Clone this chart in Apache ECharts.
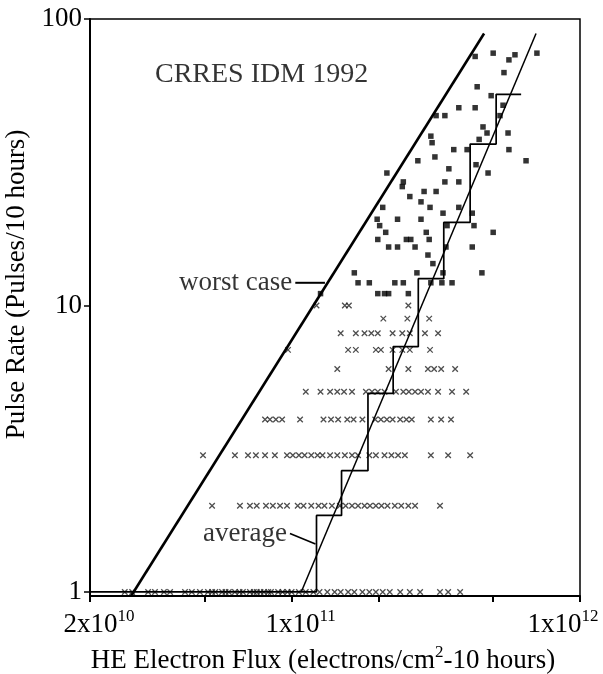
<!DOCTYPE html>
<html>
<head>
<meta charset="utf-8">
<script src="https://cdn.jsdelivr.net/npm/echarts@6/dist/echarts.min.js"></script>
<style>
  html, body { margin: 0; padding: 0; background: #fff; }
  #chart { width: 603px; height: 674px; }
</style>
</head>
<body>
<div id="chart"></div>
<script>
// flux values are in units of 1e10 electrons/cm2
const xTickValues = [2, 10, 100]
const xTickLabels = ['{b|2x10}{s|10}', '{b|1x10}{s|11}', '{b|1x10}{s|12}{pad|}']
const xMinorTicks = [2, 5, 10, 20, 50, 100]
const yTickValues = [1, 10, 100]

const worstX = [2.78, 46.5]
const worstY = [0.97, 89]
const averageX = [10.8, 70.4]
const averageY = [1, 89]

// histogram-like staircase of the average
const stepX = [2, 12.2, 14.9, 18.4, 22.5, 27.5, 33.7, 41.6, 51.2, 62.5]
const stepY = [1, 1.85, 2.65, 4.93, 7.18, 12.4, 19.5, 36.6, 54.6, 54.6]

// crosses: one row per pulse count 1..10
const cross1 = [2.64, 2.80, 3.18, 3.36, 3.61, 3.79, 4.27, 4.51, 4.81, 5.13, 5.3, 5.44, 5.74, 5.9, 6.06, 6.36, 6.6, 6.78, 7.17, 7.4, 7.57, 7.8, 8.02, 8.3, 8.48, 8.98, 9.3, 9.68, 10.0, 10.6, 11.2, 11.9, 12.5, 13.3, 14.1, 14.8, 15.7, 16.5, 17.6, 18.6, 19.6, 20.7, 21.9, 23.8, 25.7, 27.9, 32.7, 34.9, 38.4]
const cross2 = [5.30, 6.62, 7.17, 7.57, 8.15, 8.61, 9.12, 9.64, 10.5, 11.0, 11.7, 12.4, 13.0, 13.8, 14.7, 15.4, 16.2, 17.0, 17.9, 18.7, 19.6, 20.5, 21.5, 22.8, 24.0, 25.4, 26.8, 32.7]
const cross3 = [4.93, 6.36, 7.06, 7.52, 8.09, 8.75, 9.64, 10.1, 10.6, 11.1, 11.7, 12.3, 12.8, 13.6, 14.4, 15.3, 16.2, 17.0, 18.6, 19.6, 21.0, 22.2, 23.4, 24.7, 30.4, 34.9, 41.6]
const cross4 = [8.09, 8.41, 8.82, 9.27, 10.7, 12.9, 13.7, 14.5, 15.6, 16.4, 17.6, 19.5, 20.4, 21.4, 22.4, 23.8, 25.0, 26.1, 30.4, 33.0, 35.7]
const cross5 = [11.2, 12.6, 13.6, 14.4, 15.2, 16.2, 18.1, 19.0, 19.9, 21.0, 23.0, 24.4, 25.5, 26.8, 28.1, 29.7, 32.2, 36.0, 40.3]
const cross6 = [14.4, 21.7, 25.4, 29.7, 31.2, 33.0, 36.9]
const cross7 = [9.72, 15.7, 16.7, 19.6, 20.4, 22.4, 24.2, 25.7, 30.2]
const cross8 = [14.8, 16.7, 17.9, 18.9, 19.9, 22.4, 24.2, 25.7, 29.0, 32.2]
const cross9 = [20.8, 25.2, 30.0]
const cross10 = [12.2, 15.3, 15.8, 25.4]
const crossRows = [cross1, cross2, cross3, cross4, cross5, cross6, cross7, cross8, cross9, cross10]
const crossLevels = [1, 2, 3, 4, 5, 6, 7, 8, 9, 10]

// squares: higher pulse counts
const squareX = [43.3, 50.0, 56.7, 59.5, 70.9, 54.5, 44.0, 49.2, 54.1, 52.8, 43.3, 38.0, 31.7, 34.0, 46.1, 47.6, 56.3, 30.4, 30.7, 44.7, 56.7, 65.0, 36.5, 40.6, 31.4, 27.4, 35.1, 43.6, 48.0, 21.4, 24.4, 24.2, 34.0, 38.0, 25.7, 28.8, 31.7, 28.1, 30.2, 33.5, 38.0, 42.3, 20.7, 19.8, 23.3, 28.1, 20.2, 21.2, 29.3, 34.6, 42.9, 50.0, 19.9, 25.0, 25.9, 30.0, 21.7, 23.3, 26.8, 34.3, 42.3, 29.7, 30.9, 16.5, 27.2, 33.5, 45.7, 17.0, 18.6, 22.8, 24.4, 30.4, 33.2, 36.0, 19.9, 21.0, 21.7, 25.4, 12.6]
const squareY = [74, 76, 72, 75, 76, 65, 58, 54, 50, 46, 49, 49, 46, 46, 42, 40, 40, 39, 37, 38, 35, 32, 35, 35, 33, 32, 30, 31, 29, 29, 27, 26, 27, 27, 24, 25, 25, 23, 22, 21, 22, 21, 22, 20, 20, 20, 19, 18, 18, 19, 19, 18, 17, 17, 17, 17, 16, 16, 16, 16, 16, 15, 14, 13, 13, 13, 13, 12, 12, 12, 12, 12, 12, 12, 11, 11, 11, 11, 11]

// annotations
const noteText = ['CRRES IDM 1992', 'worst case', 'average']
const noteX = [3.36, 10.3, 9.87]
const noteY = [64, 12, 1.6]
const worstLeaderX = [10.3, 13.05]
const worstLeaderY = [12, 12]
const averageLeaderX = [9.87, 12.1]
const averageLeaderY = [1.6, 1.47]

const FONT = '"Liberation Serif", "DejaVu Serif", serif'
const INK = '#000'

const zip = (xs, ys) => xs.map((x, i) => [x, ys[i]])

const crossData = []
crossRows.forEach((row, i) => {
  row.forEach(x => crossData.push([x, crossLevels[i]]))
})

const chart = echarts.init(document.getElementById('chart'))

const richText = {
  b: { fontFamily: FONT, fontSize: 27, color: INK, lineHeight: 30, verticalAlign: 'bottom' },
  s: { fontFamily: FONT, fontSize: 17, color: INK, lineHeight: 30, verticalAlign: 'top' },
  pad: { width: 52 }
}

const option = {
  backgroundColor: '#fff',
  animation: false,
  grid: {
    left: 90,
    right: 23,
    top: 19,
    bottom: 78,
    outerBoundsMode: 'none',
    containLabel: false,
    show: true,
    borderColor: INK,
    borderWidth: 1.5
  },
  xAxis: {
    type: 'log',
    logBase: 10,
    min: 2,
    max: 100,
    splitLine: { show: false },
    axisLine: { lineStyle: { color: INK, width: 2 } },
    axisTick: {
      customValues: xMinorTicks,
      length: 6,
      lineStyle: { color: INK, width: 2 }
    },
    axisLabel: {
      customValues: xTickValues,
      margin: 12,
      padding: [0, 0, 0, 18],
      formatter: v => {
        let best = 0
        xTickValues.forEach((t, i) => {
          if (Math.abs(Math.log10(t) - Math.log10(v)) < Math.abs(Math.log10(xTickValues[best]) - Math.log10(v))) best = i
        })
        return xTickLabels[best]
      },
      rich: richText
    },
    name: '{b|HE Electron Flux (electrons/cm}{s|2}{b|-10 hours)}',
    nameLocation: 'middle',
    nameGap: 48,
    nameTextStyle: {
      padding: [0, 24, 0, 0],
      rich: richText
    }
  },
  yAxis: {
    type: 'log',
    logBase: 10,
    min: 0.968,
    max: 100,
    splitLine: { show: false },
    axisLine: { lineStyle: { color: INK, width: 2 } },
    axisTick: {
      customValues: yTickValues,
      length: 6,
      lineStyle: { color: INK, width: 1.5 }
    },
    axisLabel: {
      customValues: yTickValues,
      margin: 8,
      fontFamily: FONT,
      fontSize: 27,
      color: INK
    },
    name: 'Pulse Rate (Pulses/10 hours)',
    nameLocation: 'middle',
    nameGap: 52,
    nameTextStyle: {
      fontFamily: FONT,
      fontSize: 27,
      color: INK,
      padding: [0, 0, 0, 46]
    }
  },
  series: [
    {
      name: 'low counts',
      type: 'scatter',
      data: crossData,
      symbol: 'path://M0,0L10,10M10,0L0,10',
      symbolSize: 5.5,
      itemStyle: { color: 'rgba(0,0,0,0)', borderColor: '#222', borderWidth: 1.3 },
      z: 2
    },
    {
      name: 'high counts',
      type: 'scatter',
      data: zip(squareX, squareY),
      symbol: 'rect',
      symbolSize: 5.5,
      itemStyle: { color: INK },
      z: 2
    },
    {
      name: 'worst case',
      type: 'line',
      data: zip(worstX, worstY),
      showSymbol: false,
      lineStyle: { color: INK, width: 2.6 },
      z: 3
    },
    {
      name: 'average',
      type: 'line',
      data: zip(averageX, averageY),
      showSymbol: false,
      lineStyle: { color: INK, width: 1.5 },
      z: 3
    },
    {
      name: 'average steps',
      type: 'line',
      step: 'end',
      data: zip(stepX, stepY),
      showSymbol: false,
      lineStyle: { color: INK, width: 1.7 },
      z: 3
    },
    {
      name: 'worst leader',
      type: 'line',
      data: zip(worstLeaderX, worstLeaderY),
      showSymbol: false,
      lineStyle: { color: INK, width: 2 },
      z: 3
    },
    {
      name: 'average leader',
      type: 'line',
      data: zip(averageLeaderX, averageLeaderY),
      showSymbol: false,
      lineStyle: { color: INK, width: 1.6 },
      z: 3
    },
    {
      name: 'notes',
      type: 'scatter',
      symbolSize: 0,
      silent: true,
      data: noteText.map((t, i) => ({
        value: [noteX[i], noteY[i]],
        name: t,
        label: {
          position: i === 0 ? 'right' : 'left',
          distance: i === 0 ? 0 : 3,
          fontSize: i === 0 ? 28 : 27
        }
      })),
      label: {
        show: true,
        formatter: p => p.name,
        fontFamily: FONT,
        fontSize: 27,
        color: INK
      },
      z: 4
    }
  ]
}

chart.setOption(option)
</script>
</body>
</html>
